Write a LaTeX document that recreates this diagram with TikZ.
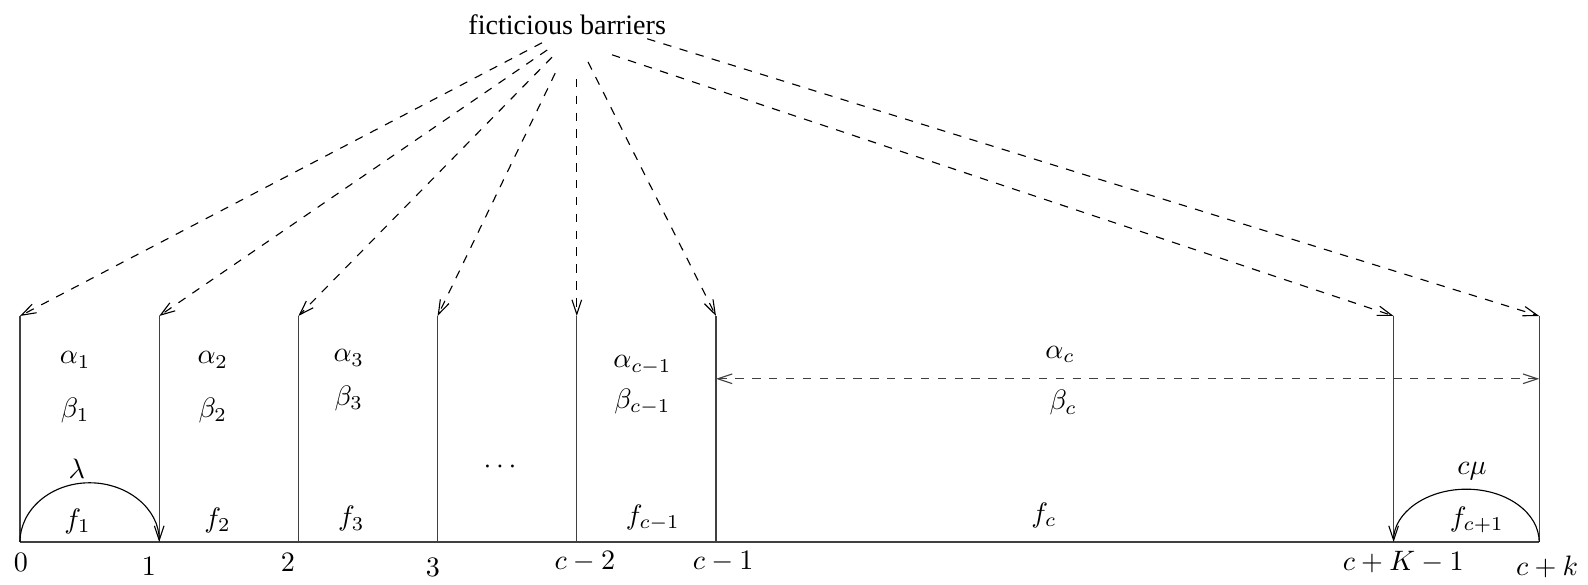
\documentclass[tikz,border=0pt]{standalone}
\usepackage{fontspec}
\newfontfamily\barfont{Liberation Serif}
\usetikzlibrary{arrows.meta}
\tikzset{
    barb/.style={-{Straight Barb[length=1.8mm,width=1.2mm]}},
    dbarb/.style={{Straight Barb[length=1.8mm,width=1.2mm]}-{Straight Barb[length=1.8mm,width=1.2mm]}},
    wall/.style={black!75,line width=.45pt}
}
\begin{document}
\begin{tikzpicture}
                \useasboundingbox (-0.25,-0.5375) rectangle (19.6,6.775);
                % barriers and the level line
                \foreach \i/\x in {0/0,1/1.74,2/3.48,3/5.22,4/6.96,5/8.7,6/17.17,7/18.99}{
                    \coordinate (bot\i) at (\x,0);
                    \coordinate (top\i) at (\x,2.825);
                    \draw[wall] (bot\i)--(top\i);
                }
                \draw[wall] (bot0)--(bot7);
                \node (fict) at (6.84,6.46) {\barfont ficticious barriers};
                \foreach \i/\sx/\sy in {0/6.525/6.24,1/6.59/6.15,2/6.65/6.06,3/6.69/5.86,4/6.96/5.79,5/7.1/6.0,6/7.4/6.09,7/7.84/6.29}{
                    \coordinate (from\i) at (\sx,\sy);
                    \draw[dashed,barb] (from\i)--(top\i);
                }
                \coordinate (hl) at (8.7,2.04);
                \coordinate (hr) at (18.99,2.04);
                \draw[dashed,dbarb,black!75] (hl)--(hr);
                \draw[barb] (bot0) arc[start angle=180,end angle=0,x radius=.87,y radius=.74];
                \draw[barb] (bot7) arc[start angle=0,end angle=180,x radius=.91,y radius=.66];
                % states
                \node (lab0) at (0.01,-0.25) {$0$};
                \node (lab1) at (1.61,-0.31) {$1$};
                \node (lab2) at (3.35,-0.25) {$2$};
                \node (lab3) at (5.16,-0.32) {$3$};
                \node (lab4) at (7.06,-0.25) {$c-2$};
                \node (lab5) at (8.79,-0.25) {$c-1$};
                \node (lab6) at (17.29,-0.25) {$c+K-1$};
                \node (lab7) at (19.09,-0.31) {$c+k$};
                % rates
                \node (al1) at (0.69,2.275) {$\alpha_1$};
                \node (be1) at (0.69,1.65) {$\beta_1$};
                \node (f1) at (0.72,0.26) {$f_1$};
                \node (lam) at (0.71,0.92) {$\lambda$};
                \node (al2) at (2.41,2.275) {$\alpha_2$};
                \node (be2) at (2.41,1.65) {$\beta_2$};
                \node (f2) at (2.47,0.27) {$f_2$};
                \node (al3) at (4.11,2.3) {$\alpha_3$};
                \node (be3) at (4.11,1.8) {$\beta_3$};
                \node (f3) at (4.14,0.29) {$f_3$};
                \node (dots) at (6.0,0.93) {$\cdots$};
                \node (alc1) at (7.78,2.21) {$\alpha_{c-1}$};
                \node (bec1) at (7.78,1.75) {$\beta_{c-1}$};
                \node (fc1) at (7.91,0.3) {$f_{c-1}$};
                \node (alc) at (13.0,2.34) {$\alpha_c$};
                \node (bec) at (13.04,1.74) {$\beta_c$};
                \node (fc) at (12.8,0.33) {$f_c$};
                \node (cmu) at (18.15,0.88) {$c\mu$};
                \node (fcp) at (18.21,0.28) {$f_{c+1}$};
            \end{tikzpicture}
\end{document}
